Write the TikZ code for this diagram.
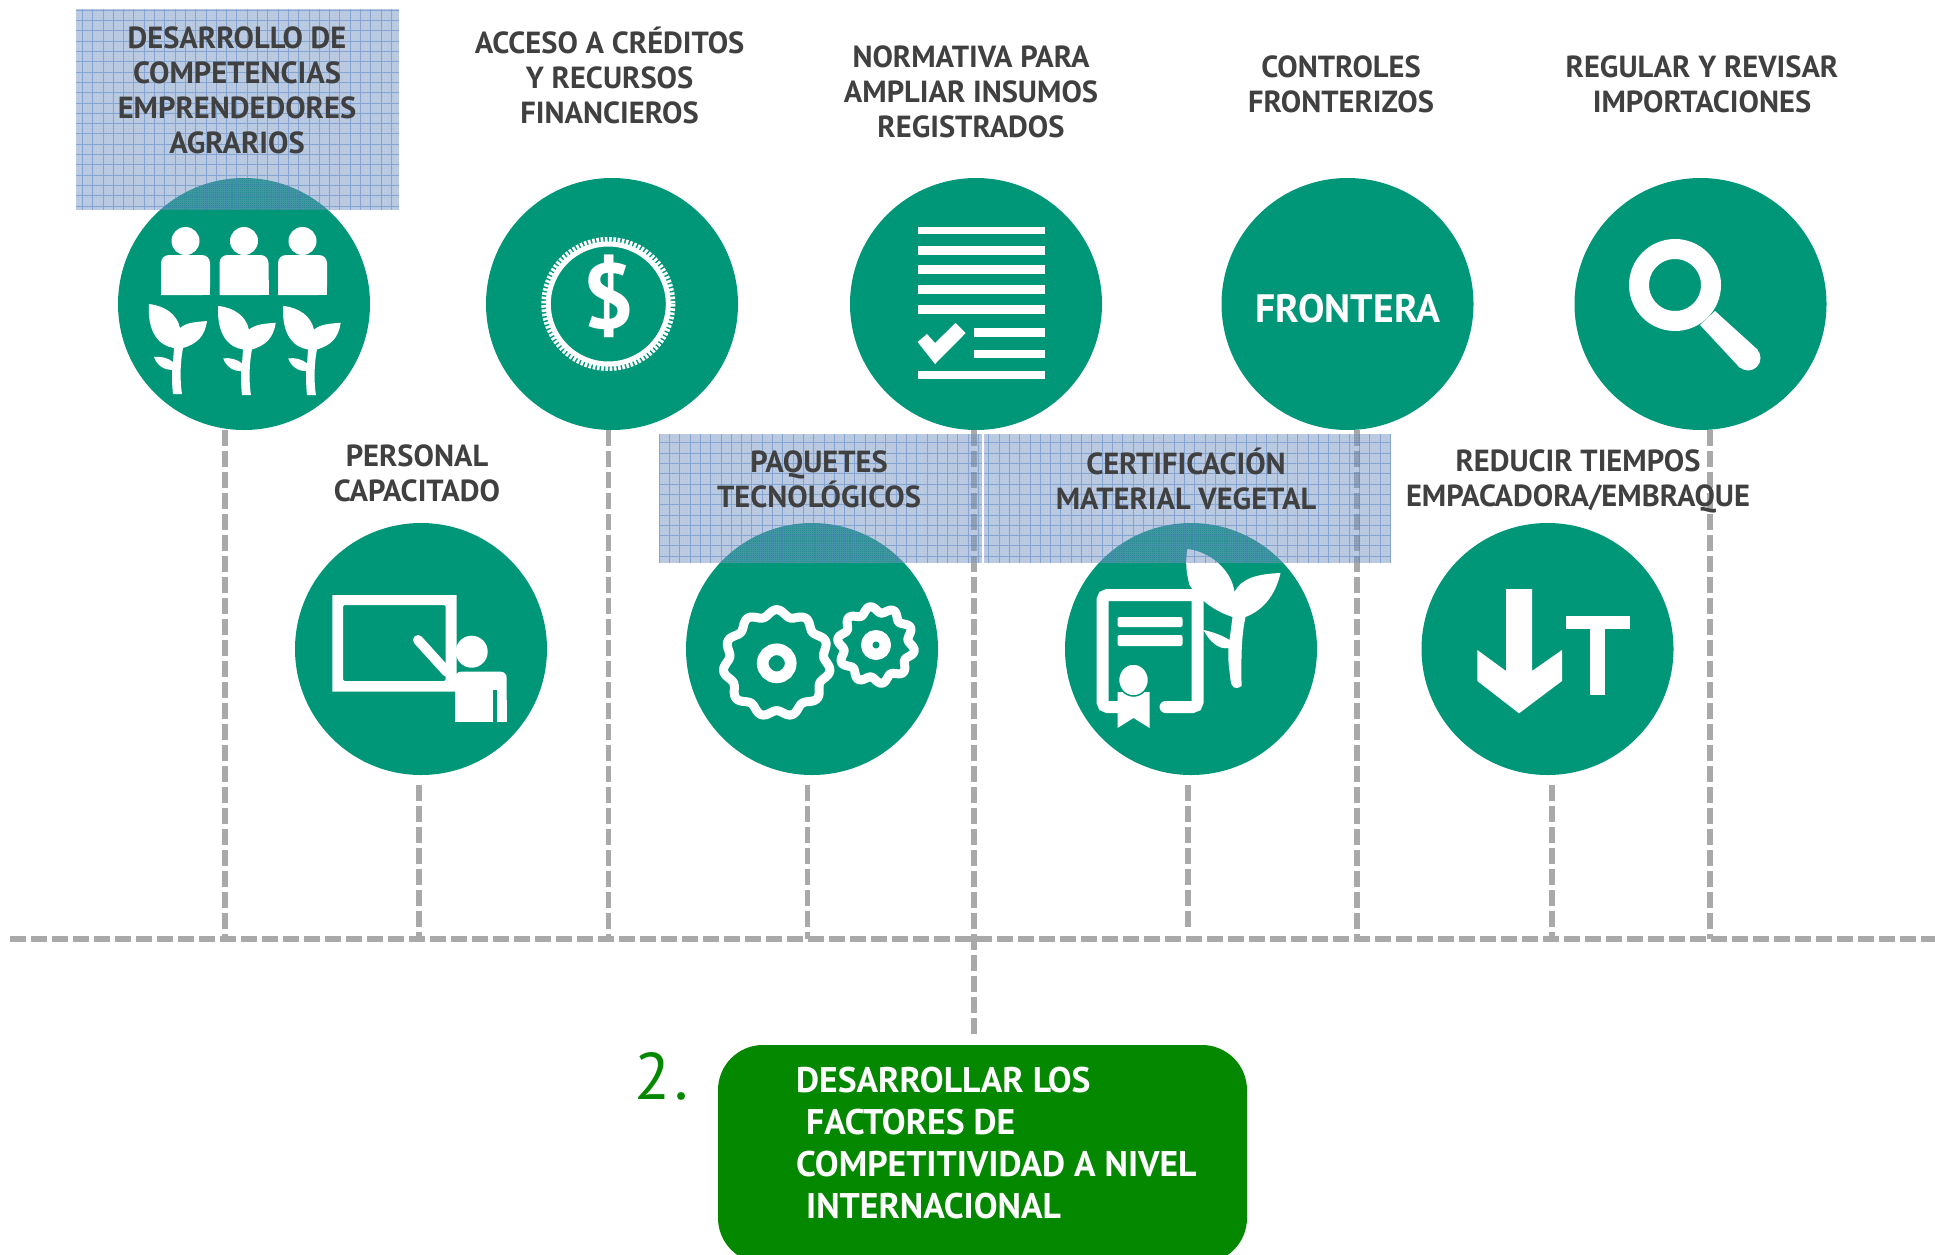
\documentclass[tikz,border=0pt]{standalone}
\usepackage{fontspec}
\setmainfont{PT Sans}
\usetikzlibrary{calc}
\definecolor{teal1}{HTML}{009678}
\definecolor{green1}{HTML}{038800}
\definecolor{txt}{HTML}{404040}
\definecolor{dashc}{HTML}{A9A9A9}
\definecolor{blue1}{RGB}{92,130,184}
\definecolor{blue2}{HTML}{4F81C4}
\tikzset{
  disc/.style={circle,fill=teal1,minimum size=252pt,inner sep=0pt},
  dashline/.style={draw=dashc,line width=5.5pt,dash pattern=on 16pt off 5pt},
  tint/.style={fill=blue1,fill opacity=.46},
  gridline/.style={draw=blue2,line width=.9pt,opacity=.5,step=10.3pt},
  finegrid/.style={draw=white,line width=.5pt,opacity=.1,step=2.06pt},
  lbl/.style={text=txt,font=\bfseries\fontsize{30.5}{35}\selectfont,align=center,inner sep=0pt},
  boxtxt/.style={text=white,font=\bfseries\fontsize{35.6}{42}\selectfont,align=left,inner sep=0pt,anchor=west},
}
\newcommand{\panel}[4]{%
\fill[tint] (#1,#2) rectangle (#3,#4);
\draw[finegrid] (#1,#2) grid (#3,#4);
\draw[gridline] (#1,#2) grid (#3,#4);}
\newcommand{\sprout}[3]{%
\begin{scope}[shift={(#1,#2)},scale=#3]
\fill[white] (-28,-90) .. controls (-12,-88) and (0,-80) .. (3,-66)
 .. controls (10,-72) and (20,-72) .. (30,-73)
 .. controls (28,-58) and (20,-50) .. (6,-46)
 .. controls (3,-30) and (3,-12) .. (5,0) -- (-4,0)
 .. controls (-5,-8) and (-5,-16) .. (-5,-24)
 .. controls (-12,-24) and (-20,-28) .. (-23,-37)
 .. controls (-16,-38) and (-9,-36) .. (-4,-32)
 -- (-3,-46) .. controls (-18,-48) and (-30,-62) .. cycle;
\end{scope}}
\newcommand{\gear}[6]{% x y R teeth hubR hubW
\draw[white,line width=9pt,line join=round] plot[domain=0:360,samples=145,smooth] ({#1+(#3+3.2*sin(#4*\x))*cos(\x)},{#2+(#3+3.2*sin(#4*\x))*sin(\x)})--cycle;
\draw[white,line width=#6pt] (#1,#2) circle (#5);
}
\begin{document}
\begin{tikzpicture}[x=1pt,y=-1pt]
\useasboundingbox (0,0) rectangle (1935,1255);
% discs
\node[disc] (c1) at (244,304) {};
\node[disc] (c2) at (612,304) {};
\node[disc] (c3) at (976,304) {};
\node[disc] (c4) at (1347.5,304) {};
\node[disc] (c5) at (1700.5,304) {};
\node[disc] (c6) at (421,649) {};
\node[disc] (c7) at (812,649) {};
\node[disc] (c8) at (1191,649) {};
\node[disc] (c9) at (1547.5,649) {};
% connector foot points
\coordinate (hl) at (10,939);
\coordinate (hr) at (1935,939);
\coordinate (f1) at (225,939);
\coordinate (f2) at (608.6,939);
\coordinate (f3) at (974,1037);
\coordinate (f4) at (1357,939);
\coordinate (f5) at (1710,939);
\coordinate (f6) at (419,939);
\coordinate (f7) at (807.7,939);
\coordinate (f8) at (1187.8,928);
\coordinate (f9) at (1552,939);
\draw[dashline] (hl) -- (hr);
\foreach \f/\c in {f1/c1,f2/c2,f3/c3,f4/c4,f5/c5}{
  \draw[dashline] (\f |- \c.south) -- (\f);
}
\foreach \f/\c in {f6/c6,f7/c7,f8/c8,f9/c9}{
  \draw[dashline] ($(\f |- \c.south)+(0,10)$) -- (\f);
}
% icon c1
\foreach \x in {185.5,244,302.5}{
  \fill[white] (\x,241) circle (14);
  \fill[white,rounded corners=8pt] (\x-24.5,295) -- (\x-24.5,255) -- (\x+24.5,255) -- (\x+24.5,295) [sharp corners] -- cycle;
  \fill[white] (\x-24.5,280) rectangle (\x+24.5,295);
}
\sprout{177}{394}{1}
\sprout{246}{395}{.99}
\sprout{311}{395}{.99}
% icon c2
\draw[white,line width=5pt] (608.3,304) circle (60);
\draw[white,line width=6pt,dash pattern=on 2.6pt off 1.6pt] (608.3,304) circle (64);
\node[text=white,font=\bfseries\fontsize{92}{92}\selectfont,inner sep=0pt] (dollar) at (608.5,296) {\$};
% icon c3
\foreach \a/\b in {227/234,246/255,265/274,285/294,305/314,371/379}{
  \fill[white] (918,\a) rectangle (1045,\b);
}
\foreach \a/\b in {328/337,350/358}{
  \fill[white] (974,\a) rectangle (1045,\b);
}
\fill[white] (917.6,342) -- (927,334) -- (935,343) -- (955.5,323) -- (965.7,333) -- (935,364) -- cycle;
% icon c4
\node[text=white,font=\bfseries\fontsize{39.6}{39.6}\selectfont,inner sep=0pt] (fr) at (1348,308.5) {FRONTERA};
% icon c5
\draw[white,line width=20pt] (1675,285) circle (36);
\fill[white] (1715,311) -- (1758,350) -- (1740,368) -- (1700,325) -- cycle;
\fill[white] (1748,358) circle (12.5);
% icon c6
\fill[white,even odd rule] (332.3,595) rectangle (456.7,691.7) [rounded corners=2pt] (343,605) rectangle (445.7,681);
\draw[white,line width=10pt,line cap=round] (418,640) -- (447,672);
\fill[white] (471.7,651.7) circle (16);
\fill[white,rounded corners=6pt] (455,721.7) -- (455,671.7) -- (506.7,671.7) -- (506.7,721.7) [sharp corners] -- cycle;
\fill[white] (455,700) rectangle (506.7,721.7);
\fill[teal1] (493.3,690) rectangle (496.7,722);
% icon c7
\gear{776.7}{663.3}{50.5}{11}{14}{11.7}
\gear{876}{645}{35.5}{10}{9.3}{11.3}
% icon c8
\begin{scope}[xshift=-4.5pt]
\draw[white,line width=12pt,line cap=round,rounded corners=5pt] (1170,707) -- (1202,707) -- (1202,595) -- (1107,595) -- (1107,707) -- (1125,707);
\fill[white,rounded corners=2pt] (1122,617) rectangle (1187,627);
\fill[white,rounded corners=2pt] (1122,635) rectangle (1187,646);
\fill[white] (1122,692) -- (1154,692) -- (1154,728) -- (1138,718) -- (1122,728) -- cycle;
\draw[teal1,line width=1.5pt,fill=white] (1138,680) ellipse (15 and 16);
\fill[white] (1192,549) .. controls (1215,552) and (1236,570) .. (1239,592)
 .. controls (1246,578) and (1262,574) .. (1285,573)
 .. controls (1280,595) and (1268,610) .. (1250,617)
 .. controls (1245,640) and (1246,665) .. (1246,686)
 .. controls (1240,690) and (1236,688) .. (1235,680)
 .. controls (1234,670) and (1232,660) .. (1233,648)
 .. controls (1224,650) and (1214,642) .. (1208,630)
 .. controls (1218,632) and (1228,636) .. (1234,640)
 -- (1237,617) .. controls (1215,610) and (1200,595) .. (1194,585)
 .. controls (1190,570) and (1190,560) .. cycle;
\end{scope}
% icon c9
\fill[white] (1506,589) -- (1532,589) -- (1532,671) -- (1562,650) -- (1562,681) -- (1519,713.3) -- (1477.3,681) -- (1477.3,650) -- (1506,671) -- cycle;
\fill[white] (1566,616) rectangle (1630,629);
\fill[white] (1590,616) rectangle (1605,695);
% blue panels
\panel{76}{9}{399}{210}
\panel{659}{434}{982}{563}
\panel{984.3}{434}{1391}{563}
% labels
\node[lbl] (t1) at (237,90) {DESARROLLO DE\\COMPETENCIAS\\EMPRENDEDORES\\AGRARIOS};
\node[lbl] (t2) at (609.6,75.5) {ACCESO A CRÉDITOS\\Y RECURSOS\\FINANCIEROS};
\node[lbl] (t3) at (971,91.5) {NORMATIVA PARA\\AMPLIAR INSUMOS\\REGISTRADOS};
\node[lbl] (t4) at (1341,84.5) {CONTROLES\\FRONTERIZOS};
\node[lbl] (t5) at (1702,84.5) {REGULAR Y REVISAR\\IMPORTACIONES};
\node[lbl] (t6) at (417,473) {PERSONAL\\CAPACITADO};
\node[lbl] (t7) at (819,479.5) {PAQUETES\\TECNOLÓGICOS};
\node[lbl] (t8) at (1186,479) {CERTIFICACIÓN\\MATERIAL VEGETAL};
\node[lbl] (t9) at (1578,481.5) {REDUCIR TIEMPOS\\EMPACADORA/EMBRAQUE};
% bottom box
\begin{scope}
\clip (0,0) rectangle (1935,1255);
\fill[green1,rounded corners=45pt] (718,1045) rectangle (1247,1263);
\end{scope}
\node[boxtxt] (b1) at (796,1080) {DESARROLLAR LOS};
\node[boxtxt] (b2) at (806,1122) {FACTORES DE};
\node[boxtxt] (b3) at (796,1164) {COMPETITIVIDAD A NIVEL};
\node[boxtxt] (b4) at (806,1206) {INTERNACIONAL};
\node[text=green1,font=\fontsize{66}{66}\selectfont,inner sep=0pt,anchor=west] (num) at (634,1076) {2\kern4pt.};
\end{tikzpicture}
\end{document}
